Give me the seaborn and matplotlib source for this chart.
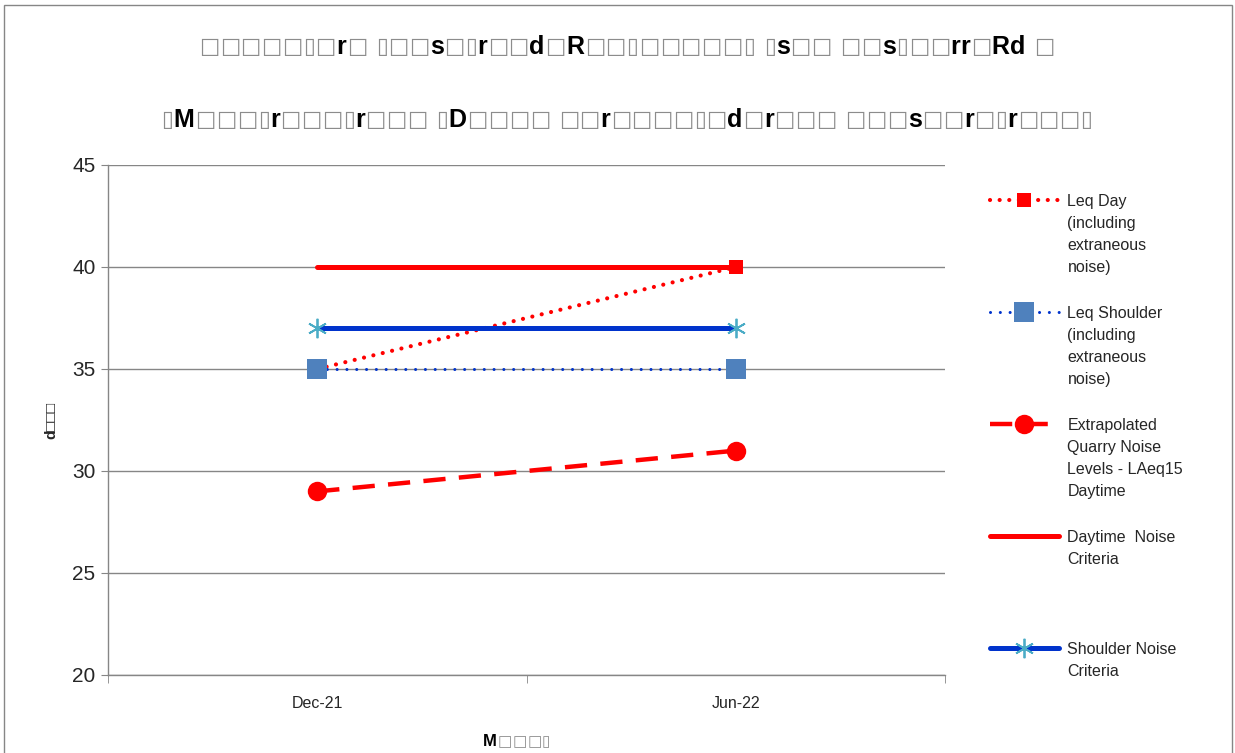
import numpy as np
import pandas as pd
import seaborn as sns
import matplotlib.pyplot as plt
from matplotlib.patches import Rectangle

# data
months = ["Dec-21", "Jun-22"]
leq_day = [35, 40]
leq_shoulder = [35, 35]
extrapolated = [29, 31]
day_criteria = [40, 40]
shoulder_criteria = [37, 37]
labels = ["Leq Day\n(including\nextraneous\nnoise)",
          "Leq Shoulder\n(including\nextraneous\nnoise)",
          "Extrapolated\nQuarry Noise\nLevels - LAeq15\nDaytime",
          "Daytime  Noise\nCriteria",
          "Shoulder Noise\nCriteria"]
yticks = [20, 25, 30, 35, 40, 45]

# title as it shows in the reference (font glyphs missing -> boxes)
title1 = "□□□□□▯□r□ ▯□□s□▯r□□d□R□□▯□□□□□▯ ▯s□□ □□s▯□□rr□Rd □"
title2 = "▯M□□□▯r□□□▯r□□□ ▯D□□□□ □□r□□□□▯□d□r□□□ □□□s□□r□▯r□□□▯"
xlab = "M□□□▯"
ylab = "d□□□"

RED = "#FF0000"
BLUE = "#0033CC"
STEEL = "#4F81BD"
AQUA = "#4BACC6"
GRID = "#868686"

sns.set_style("white")
plt.rcParams['font.family'] = ['Liberation Sans', 'DejaVu Sans']

W, H = 1235, 753
fig = plt.figure(figsize=(W / 100, H / 100), dpi=100)
ax = fig.add_axes([108 / W, 1 - 675 / H, (945 - 108) / W, (675 - 165) / H])

sns.lineplot(x=months, y=leq_day, ax=ax, color=RED, lw=3, dashes=False,
             marker="s", markersize=10, markeredgewidth=0, label=labels[0])
ax.lines[-1].set_dashes((0.01, 2.3))
ax.lines[-1].set_dash_capstyle("round")
ax.lines[-1].set_markevery([1])

sns.lineplot(x=months, y=leq_shoulder, ax=ax, color=BLUE, lw=2.2,
             marker="s", markersize=14, markerfacecolor=STEEL,
             markeredgewidth=0, label=labels[1])
ax.lines[-1].set_dashes((0.01, 3.2))
ax.lines[-1].set_dash_capstyle("round")

sns.lineplot(x=months, y=extrapolated, ax=ax, color=RED, lw=3.2,
             marker="o", markersize=14, markeredgewidth=0, label=labels[2])
ax.lines[-1].set_dashes((5, 3))

sns.lineplot(x=months, y=day_criteria, ax=ax, color=RED, lw=3.6,
             label=labels[3])

sns.lineplot(x=months, y=shoulder_criteria, ax=ax, color=BLUE, lw=3.6,
             marker=(6, 2, 0), markersize=14, markeredgecolor=AQUA,
             markeredgewidth=1.3, label=labels[4])

if ax.get_legend() is not None:
    ax.get_legend().remove()

ax.set_xlim(-0.5, 1.5)
ax.set_ylim(20, 45)
ax.set_yticks(yticks)
ax.tick_params(axis="y", labelsize=15, length=5, color=GRID, left=True,
               direction="out", pad=4)
ax.set_xticks([0, 1])
ax.set_xticklabels(months)
ax.set_xticks([-0.5, 0.5, 1.5], minor=True)
ax.tick_params(axis="x", which="major", length=0, labelsize=11.5, pad=15)
ax.tick_params(axis="x", which="minor", length=6, color=GRID, bottom=True,
               direction="out")
ax.grid(axis="y", color=GRID, lw=1)
ax.grid(axis="x", visible=False)
for side in ["top", "right"]:
    ax.spines[side].set_visible(False)
for side in ["left", "bottom"]:
    ax.spines[side].set_color(GRID)
    ax.spines[side].set_linewidth(1)
ax.set_xlabel("")
ax.set_ylabel(ylab, fontsize=11, fontweight="bold", labelpad=10)

# legend: handle next to first line, remaining lines placed underneath
handles, labs = ax.get_legend_handles_labels()
first = [lb.split("\n")[0] for lb in labs]
rest = [lb.split("\n", 1)[1] for lb in labs]
leg = fig.legend(handles, first, loc="upper left",
                 bbox_to_anchor=(990 / W, 1 - 194 / H), frameon=False,
                 fontsize=11.5, handlelength=4.3, handletextpad=0.55,
                 labelspacing=6.07, borderpad=0, borderaxespad=0,
                 numpoints=1)

# outer chart border
fig.patches.append(Rectangle((4 / W, -0.01), (1232 - 4) / W, 1.01 - 5 / H,
                             fill=False, edgecolor=GRID, lw=1,
                             transform=fig.transFigure, figure=fig))


def mixed_text(s, xc, yc, size, box_size):
    # letters bold black, missing glyph boxes thin grey
    r = fig.canvas.get_renderer()
    items = []
    x = 0
    for ch in s:
        if ch == " ":
            x += size * 0.45
            continue
        box = ch in "□▯"
        t = fig.text(0, yc, ch, fontsize=box_size if box else size,
                     color="#8c8c8c" if box else "black",
                     fontweight="normal" if box else "bold",
                     family=["DejaVu Sans"] if box else ["Liberation Sans"],
                     ha="left", va="center")
        w = t.get_window_extent(r).width
        items.append((t, x))
        x += w + 0.5
    x0 = xc * W - x / 2
    for t, dx in items:
        t.set_x((x0 + dx) / W)


mixed_text(title1, 627 / W, 1 - 47 / H, 18, 15.5)
mixed_text(title2, 627 / W, 1 - 120 / H, 18, 15.5)
mixed_text(xlab, 517 / W, 1 - 742 / H, 12, 11)

fig.canvas.draw()
for t, more in zip(leg.get_texts(), rest):
    bb = t.get_window_extent()
    fig.text(bb.x0 / W, (bb.y1 - 22) / H, more, fontsize=11.5,
             ha="left", va="top", linespacing=1.6)

fig.savefig("out.png", dpi=100)
